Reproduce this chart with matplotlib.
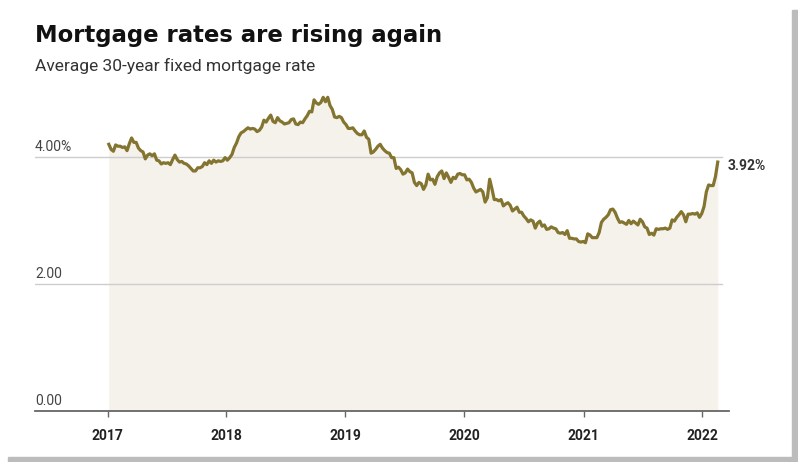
import matplotlib
matplotlib.use("Agg")
import numpy as np, pandas as pd
import matplotlib.pyplot as plt
import matplotlib.dates as mdates
from matplotlib.patches import Rectangle

# weekly 30-year fixed rate (%), one list per calendar year, Thursdays from 2017-01-05
r2017 = [4.20, 4.12, 4.09, 4.19, 4.17, 4.17, 4.15, 4.16, 4.10, 4.21,
         4.30, 4.23, 4.23, 4.14, 4.10, 4.08, 3.97, 4.03, 4.05, 4.02,
         4.05, 3.95, 3.94, 3.89, 3.91, 3.90, 3.91, 3.88, 3.96, 4.03,
         3.96, 3.92, 3.93, 3.90, 3.89, 3.86, 3.82, 3.78, 3.78, 3.83,
         3.83, 3.85, 3.91, 3.88, 3.94, 3.90, 3.95, 3.92, 3.94, 3.93,
         3.94, 3.99]
r2018 = [3.95, 3.99, 4.04, 4.15, 4.22, 4.32, 4.38, 4.40, 4.43, 4.46,
         4.44, 4.45, 4.44, 4.40, 4.42, 4.47, 4.58, 4.55, 4.61, 4.66,
         4.56, 4.54, 4.62, 4.57, 4.55, 4.52, 4.53, 4.54, 4.59, 4.60,
         4.52, 4.51, 4.55, 4.54, 4.60, 4.65, 4.72, 4.71, 4.90, 4.85,
         4.83, 4.86, 4.94, 4.87, 4.94, 4.81, 4.75, 4.63, 4.62, 4.64,
         4.62, 4.55]
r2019 = [4.51, 4.45, 4.45, 4.46, 4.41, 4.37, 4.35, 4.35, 4.41, 4.31,
         4.28, 4.06, 4.08, 4.12, 4.17, 4.20, 4.14, 4.10, 4.07, 4.06,
         3.99, 3.99, 3.82, 3.84, 3.80, 3.73, 3.75, 3.81, 3.77, 3.75,
         3.60, 3.55, 3.60, 3.58, 3.49, 3.56, 3.73, 3.64, 3.65, 3.57,
         3.69, 3.75, 3.78, 3.66, 3.75, 3.68, 3.60, 3.68, 3.66, 3.73,
         3.74, 3.72]
r2020 = [3.72, 3.64, 3.65, 3.60, 3.51, 3.45, 3.47, 3.49, 3.45, 3.29,
         3.36, 3.65, 3.50, 3.33, 3.33, 3.31, 3.33, 3.23, 3.26, 3.28,
         3.24, 3.15, 3.18, 3.21, 3.13, 3.13, 3.07, 3.03, 2.98, 3.01,
         2.99, 2.88, 2.96, 2.99, 2.91, 2.93, 2.86, 2.87, 2.90, 2.88,
         2.87, 2.81, 2.80, 2.81, 2.78, 2.84, 2.72, 2.72, 2.71, 2.71,
         2.67, 2.66, 2.67]
r2021 = [2.65, 2.79, 2.77, 2.73, 2.73, 2.73, 2.81, 2.97, 3.02, 3.05,
         3.09, 3.17, 3.18, 3.13, 3.04, 2.97, 2.98, 2.96, 2.94, 3.00,
         2.95, 2.99, 2.96, 2.93, 3.02, 2.98, 2.90, 2.88, 2.78, 2.80,
         2.77, 2.87, 2.86, 2.87, 2.87, 2.88, 2.86, 2.88, 3.01, 2.99,
         3.05, 3.09, 3.14, 3.09, 2.98, 3.10, 3.10, 3.11, 3.10, 3.12,
         3.05, 3.11]
r2022 = [3.22, 3.45, 3.56, 3.55, 3.55, 3.69, 3.92]

rates = r2017 + r2018 + r2019 + r2020 + r2021 + r2022
dates = pd.date_range("2017-01-05", periods=len(rates), freq="7D")
years = [2017, 2018, 2019, 2020, 2021, 2022]
ylevels = [0, 2, 4]
ylabels = ["0.00", "2.00", "4.00%"]

LINE = "#837530"
FILL = "#f5f2ec"
GRID = "#cdcdcd"

fig = plt.figure(figsize=(7.98, 4.62), dpi=100)
fig.patch.set_facecolor("white")

# card shadow along right and bottom edges
fig.patches.append(Rectangle((792 / 798, 0), 6 / 798, 1 - 10 / 462, transform=fig.transFigure,
                             color="#bcbcbc", zorder=0))
fig.patches.append(Rectangle((8 / 798, 0), 1 - 8 / 798, 5 / 462, transform=fig.transFigure,
                             color="#bcbcbc", zorder=0))

ax = fig.add_axes([35 / 798, 1 - 411 / 462, (729 - 35) / 798, (411 - 87) / 462])
x0 = mdates.date2num(pd.Timestamp("2017-01-01"))
ppy = 119.0  # pixels per year
ax.set_xlim(x0 - 72.5 / ppy * 365.25, x0 + (729 - 107.5) / ppy * 365.25)
ax.set_ylim(0, (411 - 87) / 63.5)

xn = mdates.date2num(dates)
ax.fill_between(xn, 0, rates, color=FILL, lw=0, zorder=1)
grid_end = x0 + (722 - 107.5) / ppy * 365.25
for lv in ylevels[1:]:
    ax.plot([ax.get_xlim()[0], grid_end], [lv, lv], color=GRID, lw=1, zorder=2)
ax.plot(xn, rates, color=LINE, lw=2.3, zorder=3, solid_joinstyle="round")

for lv, lab in zip(ylevels, ylabels):
    ax.text(0, lv + 0.05, lab, transform=ax.get_yaxis_transform(), ha="left", va="bottom",
            fontsize=10, color="#444444", family="Roboto")

ax.text(xn[-1] + 30, rates[-1] - 0.06, f"{rates[-1]:.2f}%", ha="left", va="center",
        fontsize=10, fontweight="bold", color="#333333", family="Roboto")

for s in ["top", "right", "left"]:
    ax.spines[s].set_visible(False)
ax.spines["bottom"].set_color("#666666")
ax.spines["bottom"].set_linewidth(1.3)
ax.set_yticks([])
ax.set_xticks([mdates.date2num(pd.Timestamp(f"{y}-01-01")) for y in years])
ax.set_xticklabels([str(y) for y in years], fontsize=10, fontweight="bold",
                   family="Roboto", color="#222222")
ax.tick_params(axis="x", direction="out", length=4, width=1, color="#666666", pad=9)
ax.set_facecolor("none")

fig.text(35 / 798, 1 - 42 / 462, "Mortgage rates are rising again", ha="left", va="baseline",
         fontsize=16.4, fontweight="bold", family="DejaVu Sans", color="#111111")
fig.text(35 / 798, 1 - 71 / 462, "Average 30-year fixed mortgage rate", ha="left", va="baseline",
         fontsize=12.5, family="Roboto", color="#333333")

fig.savefig("out.png", dpi=100)
